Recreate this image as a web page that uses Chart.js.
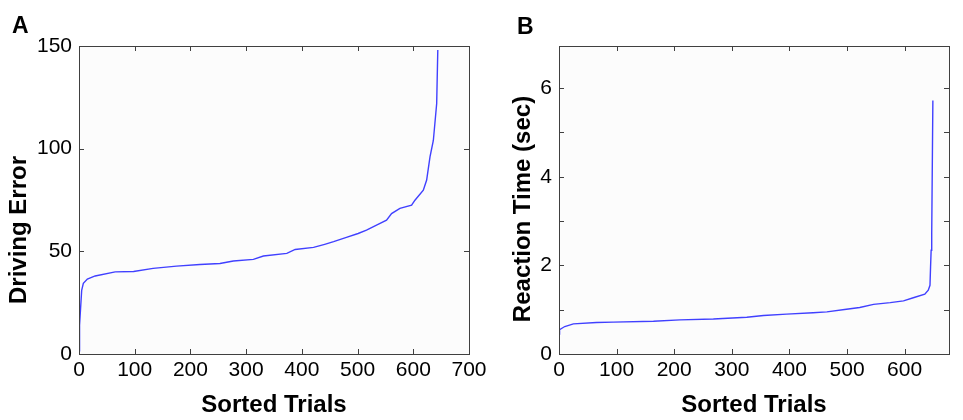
<!DOCTYPE html>
<html>
<head>
<meta charset="utf-8">
<script src="https://cdn.jsdelivr.net/npm/chart.js@4.4.1/dist/chart.umd.min.js"></script>
<style>
  body { margin: 0; background: #fff; }
  #wrap { position: relative; width: 963px; height: 420px; overflow: hidden; }
  .panel { position: absolute; top: 0; }
  #panelA { left: 0; z-index: 2; }
  #panelB { left: 480px; z-index: 1; }
  .letter { position: absolute; z-index: 3; font: bold 23px "Liberation Sans", Arial, sans-serif; line-height: 1; color: #000; }
</style>
</head>
<body>
<div id="wrap">
  <div class="letter" style="left:12px; top:14px;">A</div>
  <div class="letter" style="left:517px; top:15px;">B</div>
  <canvas id="panelA" class="panel" width="500" height="420"></canvas>
  <canvas id="panelB" class="panel" width="483" height="420"></canvas>
</div>
<script>
// Panel A: driving error per trial, sorted
const trialsA = [0, 1, 4.8, 7.8, 15, 29, 65, 98, 133, 175, 217, 253, 277, 313, 331, 373, 388, 421, 441, 457, 480, 501, 516, 534, 552, 561, 576, 597, 603, 618, 624, 630, 636, 642, 644];
const errorA = [1.5, 14, 31, 34.4, 36.5, 38, 40, 40.2, 41.7, 42.8, 43.6, 44.1, 45.3, 46.1, 47.7, 49, 50.9, 51.9, 53.4, 54.7, 56.8, 58.7, 60.3, 62.8, 65.2, 68.4, 70.9, 72.5, 74.9, 79.8, 84.7, 96, 104, 122, 148];

// Panel B: reaction time per trial, sorted
const trialsB = [0, 1, 10, 25, 65, 94, 164, 210, 268, 326, 355, 395, 441, 465, 499, 522, 546, 575, 598, 615, 635, 641, 644, 645, 646, 647, 649];
const rtB = [0.45, 0.55, 0.62, 0.68, 0.71, 0.72, 0.74, 0.77, 0.79, 0.83, 0.87, 0.90, 0.93, 0.95, 1.01, 1.05, 1.12, 1.16, 1.2, 1.27, 1.35, 1.44, 1.55, 1.97, 2.34, 2.72, 5.72];

const FONT = '"Liberation Sans", Arial, sans-serif';
const LINE_COLOR = 'rgb(64, 64, 255)';

// matlab-ish box with inward tick marks
const boxTicks = {
    id: 'boxTicks',
    beforeDraw(chart) {
        const { ctx, chartArea: a } = chart;
        ctx.save();
        ctx.fillStyle = '#fcfcfc';
        ctx.fillRect(a.left, a.top, a.right - a.left, a.bottom - a.top);
        ctx.restore();
    },
    afterDraw(chart, args, opts) {
        const { ctx, chartArea: a, scales } = chart;
        const len = 5;
        ctx.save();
        ctx.strokeStyle = '#404040';
        ctx.lineWidth = 1;
        ctx.beginPath();
        scales.x.ticks.forEach(t => {
            const px = Math.round(scales.x.getPixelForValue(t.value)) + 0.5;
            ctx.moveTo(px, a.bottom); ctx.lineTo(px, a.bottom - len);
            ctx.moveTo(px, a.top); ctx.lineTo(px, a.top + len);
        });
        scales.y.ticks.forEach(t => {
            const py = Math.round(scales.y.getPixelForValue(t.value)) + 0.5;
            ctx.moveTo(a.left, py); ctx.lineTo(a.left + len, py);
            ctx.moveTo(a.right, py); ctx.lineTo(a.right - len, py);
        });
        ctx.stroke();
        ctx.strokeRect(Math.round(a.left) + 0.5, Math.round(a.top) + 0.5,
            Math.round(a.right - a.left), Math.round(a.bottom - a.top));

        // y axis title, sits a bit off the middle of the axis like the original
        if (opts.text) {
            ctx.translate(opts.x, (a.top + a.bottom) / 2 + opts.shift);
            ctx.rotate(-Math.PI / 2);
            ctx.font = 'bold 24px ' + FONT;
            ctx.fillStyle = '#000';
            ctx.textAlign = 'center';
            ctx.textBaseline = 'middle';
            ctx.fillText(opts.text, 0, 0);
        }
        ctx.restore();
    }
};

function makePanel(id, xs, ys, opts) {
    const ctx = document.getElementById(id).getContext('2d');
    return new Chart(ctx, {
        type: 'line',
        data: {
            datasets: [{
                data: xs.map((x, i) => ({ x: x, y: ys[i] })),
                borderColor: LINE_COLOR,
                borderWidth: 1.4,
                pointRadius: 0,
                fill: false,
                tension: 0
            }]
        },
        options: {
            responsive: false,
            animation: false,
            layout: { padding: { left: 0, top: 46, right: opts.padRight, bottom: 0 } },
            plugins: {
                legend: { display: false },
                tooltip: { enabled: false },
                boxTicks: { text: opts.yTitle, x: opts.yTitleX, shift: opts.yTitleShift }
            },
            scales: {
                x: {
                    type: 'linear',
                    min: 0,
                    max: opts.xMax,
                    grid: { display: false, drawTicks: false },
                    border: { display: false },
                    ticks: {
                        stepSize: 100,
                        includeBounds: false,
                        maxRotation: 0,
                        autoSkip: false,
                        padding: 4,
                        color: '#000',
                        font: { family: FONT, size: 21 }
                    },
                    title: {
                        display: true,
                        text: 'Sorted Trials',
                        color: '#000',
                        font: { family: FONT, size: 24, weight: 'bold' },
                        padding: { top: 0, bottom: 0 }
                    },
                    afterFit: s => { s.height = 66; }
                },
                y: {
                    type: 'linear',
                    min: 0,
                    max: opts.yMax,
                    grid: { display: false, drawTicks: false },
                    border: { display: false },
                    ticks: {
                        stepSize: opts.yStep,
                        includeBounds: false,
                        autoSkip: false,
                        padding: 7,
                        color: '#000',
                        font: { family: FONT, size: 21 },
                        callback: opts.yLabel
                    },
                    afterFit: s => { s.width = 79; }
                }
            }
        },
        plugins: [boxTicks]
    });
}

makePanel('panelA', trialsA, errorA, {
    xMax: 700, yMax: 150, yStep: 50, padRight: 31,
    yTitle: 'Driving Error', yTitleX: 19, yTitleShift: 30,
    yLabel: v => v
});

makePanel('panelB', trialsB, rtB, {
    xMax: 677, yMax: 6.95, yStep: 1, padRight: 14,
    yTitle: 'Reaction Time (sec)', yTitleX: 43, yTitleShift: 9,
    yLabel: v => (v % 2 === 0 ? v : '')
});
</script>
</body>
</html>
